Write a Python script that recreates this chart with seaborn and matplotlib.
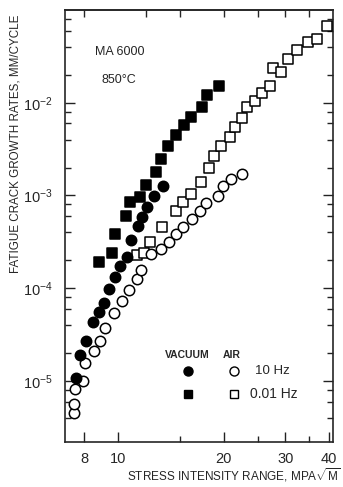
import numpy as np
import pandas as pd
import matplotlib
matplotlib.use('Agg')
import matplotlib.pyplot as plt
import seaborn as sns
from matplotlib.ticker import FixedLocator, FixedFormatter, NullFormatter, LogLocator, LogFormatterMathtext

# stress intensity range (MPa sqrt m) and crack growth rate (mm/cycle)
vacuum_10hz_k = [7.57, 7.79, 8.09, 8.50, 8.84, 9.12, 9.41, 9.76, 10.13, 10.56, 10.86, 11.41,
                 11.67, 12.05, 12.67, 13.40]
vacuum_10hz_rate = [1.07e-5, 1.91e-5, 2.71e-5, 4.31e-5, 5.48e-5, 6.95e-5, 9.9e-5, 1.31e-4,
                    1.75e-4, 2.19e-4, 3.32e-4, 4.64e-4, 5.90e-4, 7.52e-4, 9.9e-4, 1.26e-3]

vacuum_001hz_k = [8.82, 9.63, 9.76, 10.54, 10.80, 11.56, 12.02, 12.84, 13.27, 13.87, 14.65,
                  15.40, 16.13, 17.34, 17.92, 19.35]
vacuum_001hz_rate = [1.9e-4, 2.38e-4, 3.87e-4, 5.98e-4, 8.55e-4, 9.7e-4, 1.29e-3, 1.78e-3,
                     2.48e-3, 3.39e-3, 4.5e-3, 5.8e-3, 7.1e-3, 9.1e-3, 1.20e-2, 1.52e-2]

air_10hz_k = [7.46, 7.49, 7.55, 7.96, 8.05, 8.52, 8.90, 9.16, 9.74, 10.22, 10.75, 11.33, 11.65,
              12.43, 13.26, 13.94, 14.60, 15.31, 16.20, 17.09, 17.84, 19.31, 19.91, 20.99, 22.57]
air_10hz_rate = [4.5e-6, 5.6e-6, 8.3e-6, 1.01e-5, 1.56e-5, 2.13e-5, 2.71e-5, 3.76e-5, 5.38e-5,
                 7.24e-5, 9.5e-5, 1.25e-4, 1.56e-4, 2.32e-4, 2.63e-4, 3.16e-4, 3.81e-4, 4.58e-4,
                 5.52e-4, 6.73e-4, 8.4e-4, 9.8e-4, 1.27e-3, 1.49e-3, 1.72e-3]

air_001hz_k = [11.31, 11.84, 12.35, 13.31, 14.62, 15.34, 16.17, 17.27, 18.11, 18.72, 19.69,
               20.80, 21.55, 22.57, 23.32, 24.63, 25.74, 27.13, 27.67, 29.04, 30.40, 32.46,
               34.83, 36.96, 39.48]
air_001hz_rate = [2.27e-4, 2.37e-4, 3.16e-4, 4.61e-4, 6.85e-4, 8.41e-4, 1.04e-3, 1.41e-3,
                  1.97e-3, 2.69e-3, 3.39e-3, 4.28e-3, 5.45e-3, 6.85e-3, 9.06e-3, 1.04e-2,
                  1.27e-2, 1.53e-2, 2.37e-2, 2.13e-2, 2.96e-2, 3.67e-2, 4.55e-2, 4.82e-2, 6.73e-2]

x_ticks = [8, 10, 20, 30, 40]
x_tick_labels = ['8', '10', '20', '30', '40']
x_minor_ticks = [15, 25, 35]
top_ticks = [8, 12, 15, 20, 25, 30, 35]
y_ticks = [1e-5, 1e-4, 1e-3, 1e-2]

sns.set_style('ticks')
plt.rcParams['font.family'] = ['Liberation Sans', 'DejaVu Sans']
plt.rcParams['mathtext.fontset'] = 'custom'
plt.rcParams['mathtext.rm'] = 'Liberation Sans'
plt.rcParams['mathtext.it'] = 'Liberation Sans'
plt.rcParams['axes.linewidth'] = 1.2

fig = plt.figure(figsize=(3.43, 4.87), dpi=100)
ax = fig.add_axes([0.1895, 0.0924, 0.7815, 0.8871])


def draw_series(k, rate, marker, face, order):
    frame = pd.DataFrame({'k': k, 'rate': rate})
    sns.scatterplot(data=frame, x='k', y='rate', ax=ax, marker=marker, s=56, color=face,
                    edgecolor='black', linewidth=1.1, zorder=order, legend=False)


draw_series(air_001hz_k, air_001hz_rate, 's', 'white', 3)
draw_series(air_10hz_k, air_10hz_rate, 'o', 'white', 3)
draw_series(vacuum_001hz_k, vacuum_001hz_rate, 's', 'black', 4)
draw_series(vacuum_10hz_k, vacuum_10hz_rate, 'o', 'black', 4)

ax.set_xscale('log')
ax.set_yscale('log')
ax.set_xlim(7.05, 41)
ax.set_ylim(2.2e-6, 1e-1)

ax.xaxis.set_major_locator(FixedLocator(x_ticks))
ax.xaxis.set_major_formatter(FixedFormatter(x_tick_labels))
ax.xaxis.set_minor_locator(FixedLocator(x_minor_ticks))
ax.xaxis.set_minor_formatter(NullFormatter())
ax.yaxis.set_major_locator(FixedLocator(y_ticks))
ax.yaxis.set_major_formatter(LogFormatterMathtext())
ax.yaxis.set_minor_locator(LogLocator(base=10, subs=[2, 4, 6, 8], numticks=20))
ax.yaxis.set_minor_formatter(NullFormatter())

ax.tick_params(which='both', direction='in', right=True, top=False, width=1.0, color='#222222')
ax.tick_params(which='major', length=7, pad=8)
ax.tick_params(which='minor', length=4.5)
ax.tick_params(axis='x', labelsize=10.5, pad=7)
ax.tick_params(axis='y', labelsize=10.5, pad=9)

top = ax.secondary_xaxis('top')
top.set_xscale('log')
top.xaxis.set_major_locator(FixedLocator(top_ticks))
top.xaxis.set_major_formatter(NullFormatter())
top.xaxis.set_minor_locator(FixedLocator([]))
top.tick_params(direction='in', length=5, width=1.0)

ax.set_xlabel(r'STRESS INTENSITY RANGE, MPA$\sqrt{\mathregular{M}}$', fontsize=8.5, va='center')
ax.xaxis.set_label_coords(0.63, -0.076)
ax.set_ylabel('FATIGUE CRACK GROWTH RATES, MM/CYCLE', fontsize=8.4, va='center')
ax.yaxis.set_label_coords(-0.185, 0.69)

ax.text(0.112, 0.903, 'MA 6000', transform=ax.transAxes, fontsize=9, va='center')
ax.text(0.138, 0.838, '850°C', transform=ax.transAxes, fontsize=9, va='center')

# legend block
ax.text(0.373, 0.201, 'VACUUM', transform=ax.transAxes, fontsize=7.5, fontweight='bold', va='center')
ax.text(0.590, 0.201, 'AIR', transform=ax.transAxes, fontsize=7.5, fontweight='bold', va='center')
ax.plot([0.459], [0.164], 'o', transform=ax.transAxes, ms=6.5, color='black')
ax.plot([0.631], [0.164], 'o', transform=ax.transAxes, ms=6.5, mfc='white', mec='black', mew=1.0)
ax.plot([0.459], [0.110], 's', transform=ax.transAxes, ms=6, color='black')
ax.plot([0.631], [0.110], 's', transform=ax.transAxes, ms=5.5, mfc='white', mec='black', mew=1.0)
ax.text(0.709, 0.164, '10 Hz', transform=ax.transAxes, fontsize=9.5, va='center')
ax.text(0.690, 0.110, '0.01 Hz', transform=ax.transAxes, fontsize=10, va='center')

fig.savefig('out.png', dpi=100)
